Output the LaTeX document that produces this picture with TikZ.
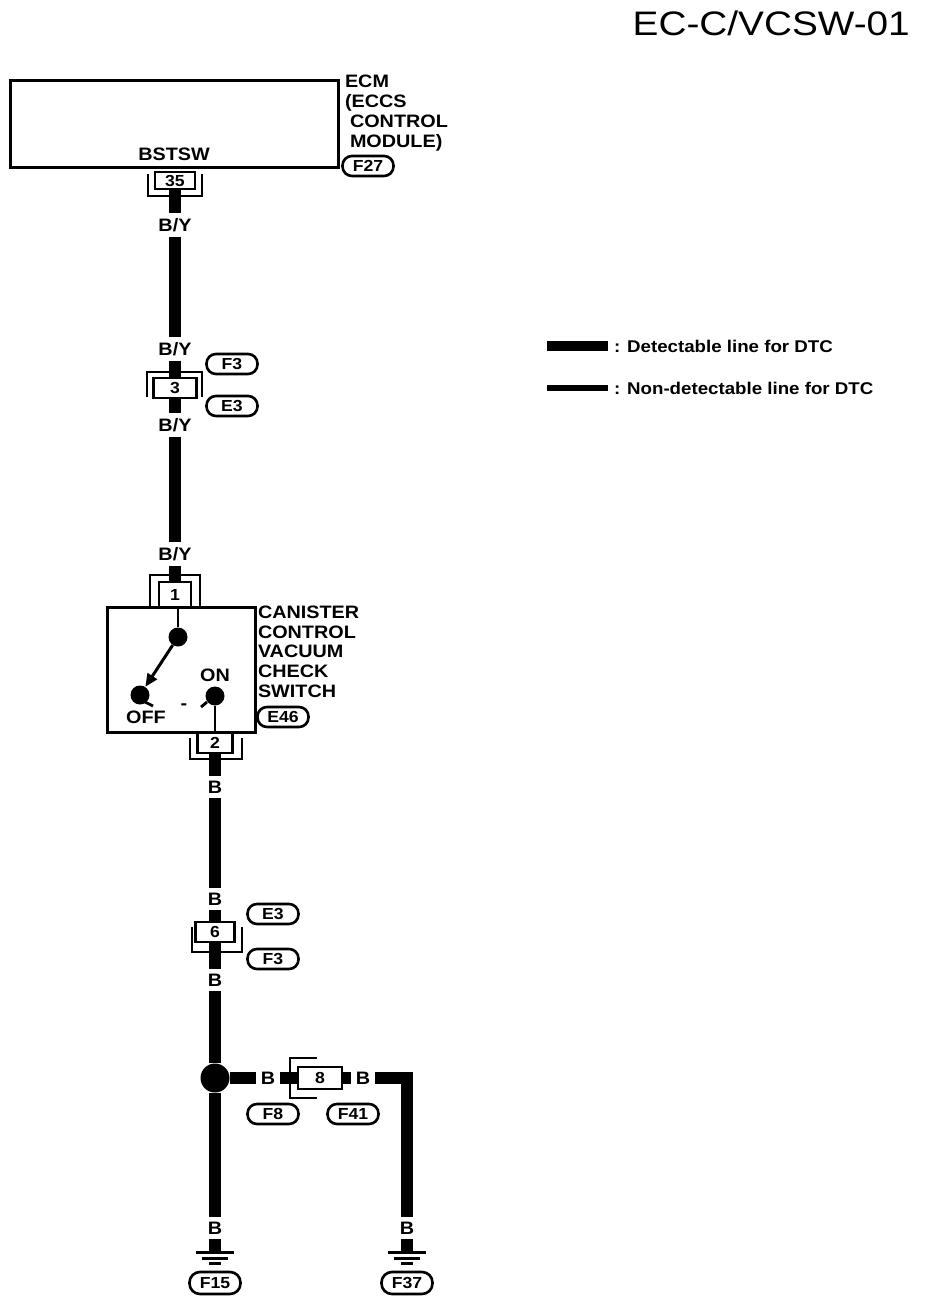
\documentclass[tikz,border=0pt]{standalone}
\usepackage{fontspec}
\setmainfont{Liberation Sans}
\newfontfamily\labfont[FakeStretch=1.1]{Liberation Sans}
\newfontfamily\ttlfont[FakeStretch=1.14]{Liberation Sans}
\usetikzlibrary{arrows.meta}
\begin{document}
\begin{tikzpicture}[x=1pt,y=-1pt,
  wire/.style={line width=12pt},
  lbl/.style={font=\labfont\fontsize{18}{20}\selectfont\bfseries, inner sep=0pt, outer sep=0pt},
  wlbl/.style={lbl, outer ysep=5pt},
  hlbl/.style={lbl, outer xsep=5pt},
  leglbl/.style={font=\labfont\fontsize{17}{20}\selectfont\bfseries, inner sep=0pt, outer sep=0pt},
  ovl/.style={draw, line width=2.6pt, rounded corners=9.5pt, minimum width=51pt, minimum height=20pt, inner sep=0pt, font=\labfont\fontsize{16}{18}\selectfont\bfseries},
  pinbox/.style={draw, line width=2.6pt, inner sep=0pt, outer sep=0pt, font=\labfont\fontsize{16}{18}\selectfont\bfseries},
  brk/.style={line width=2.8pt},
  ecmbox/.style={draw, line width=3pt, inner sep=0pt, outer sep=0pt},
  jdot/.style={circle, fill, inner sep=0pt, minimum size=19pt},
  gnd/.style={line width=3pt},
]
\fill[white] (0,0) rectangle (928,1304);
\useasboundingbox (0,0) rectangle (928,1304);

% title
\node[inner sep=0pt, anchor=east, font=\ttlfont\fontsize{34}{40}\selectfont] (title) at (910,23) {EC-C/VCSW-01};

% ECM
\node[ecmbox, minimum width=328pt, minimum height=87pt] (ecm) at (174,123.5) {};
\node[lbl, anchor=base west] (ecmA) at (345,87) {ECM};
\node[lbl, anchor=base west] (ecmB) at (345,107) {(ECCS};
\node[lbl, anchor=base west] (ecmC) at (350,127) {CONTROL};
\node[lbl, anchor=base west] (ecmD) at (350,147) {MODULE)};
\node[ovl] (f27) at (368,166) {F27};
\node[lbl] (bstsw) at (174,154) {BSTSW};

% connector 35
\node[pinbox, minimum width=40pt, minimum height=17pt] (c35) at (175,180.5) {35};
\draw[brk] (148,174) -- (148,196) -- (202,196) -- (202,174);

% upper harness
\node[wlbl] (by1) at (175,225) {B/Y};
\node[wlbl] (by2) at (175,349) {B/Y};
\node[pinbox, minimum width=43pt, minimum height=20pt] (c3) at (175,388) {3};
\draw[brk] (147,397) -- (147,372) -- (202,372) -- (202,397);
\node[ovl] (f3a) at (232,364) {F3};
\node[ovl] (e3a) at (232,406) {E3};
\node[wlbl] (by3) at (175,425) {B/Y};
\node[wlbl] (by4) at (175,554) {B/Y};

% connector 1 and switch
\node[pinbox, minimum width=32pt, minimum height=25pt] (c1) at (175,594.5) {1};
\draw[brk] (150,607) -- (150,575) -- (200,575) -- (200,607);
\node[ecmbox, minimum width=148pt, minimum height=125pt] (sw) at (181,669.5) {};
\node[lbl, anchor=base west] (swA) at (258,618) {CANISTER};
\node[lbl, anchor=base west] (swB) at (258,638) {CONTROL};
\node[lbl, anchor=base west] (swC) at (258,657) {VACUUM};
\node[lbl, anchor=base west] (swD) at (258,677) {CHECK};
\node[lbl, anchor=base west] (swE) at (258,697) {SWITCH};
\node[ovl] (e46) at (283,717) {E46};

\node[jdot] (d0) at (178,637) {};
\node[jdot] (doff) at (140,695) {};
\node[jdot] (don) at (215,696) {};
\draw[brk] (d0) -- (d0 |- sw.north);
\draw[brk, line width=3pt, -{Triangle[length=13pt,width=11pt]}] (d0) -- (doff);
\draw[brk] (don) -- (don |- sw.south);
\draw[brk] (145,702) -- (153,706);
\draw[brk] (207,702) -- (201,707);
\node[lbl] (on) at (215,675) {ON};
\node[lbl] (off) at (146,717) {OFF};
\node[lbl] (dash) at (184,707) {-};

% connector 2
\node[pinbox, minimum width=35pt, minimum height=21pt] (c2) at (215,742.5) {2};
\draw[brk] (190,738) -- (190,759) -- (242,759) -- (242,738);

% lower harness
\node[wlbl] (b1) at (215,787) {B};
\node[wlbl] (b2) at (215,899) {B};
\node[pinbox, minimum width=39pt, minimum height=20pt] (c6) at (215,932) {6};
\draw[brk] (192,927) -- (192,952) -- (242,952) -- (242,927);
\node[ovl] (e3b) at (273,914) {E3};
\node[ovl] (f3b) at (273,959) {F3};
\node[wlbl] (b3) at (215,980) {B};
\node[jdot, minimum size=29pt] (jn) at (215,1078) {};
\node[wlbl] (b4) at (215,1228) {B};
\coordinate (g1) at (215,1252);

% branch to F37
\node[hlbl] (b5) at (268,1078) {B};
\node[pinbox, minimum width=44pt, minimum height=22pt] (c8) at (320,1078) {8};
\draw[brk] (317,1058) -- (290,1058) -- (290,1098) -- (317,1098);
\node[hlbl] (b6) at (363,1078) {B};
\coordinate (corner) at (407,1078);
\node[wlbl] (b7) at (407,1228) {B};
\coordinate (g2) at (407,1252);
\node[ovl] (f8) at (273,1114) {F8};
\node[ovl] (f41) at (353,1114) {F41};

% wires
\draw[wire] (c35.south) -- (by1.north);
\draw[wire] (by1.south) -- (by2.north);
\draw[wire] (by2.south) -- (c3.north);
\draw[wire] (c3.south) -- (by3.north);
\draw[wire] (by3.south) -- (by4.north);
\draw[wire] (by4.south) -- (c1.north);
\draw[wire] (c2.south) -- (b1.north);
\draw[wire] (b1.south) -- (b2.north);
\draw[wire] (b2.south) -- (c6.north);
\draw[wire] (c6.south) -- (b3.north);
\draw[wire] (b3.south) -- (jn);
\draw[wire] (jn) -- (b4.north);
\draw[wire] (b4.south) -- (g1);
\draw[wire] (jn) -- (b5.west);
\draw[wire] (b5.east) -- (c8.west);
\draw[wire] (c8.east) -- (b6.west);
\draw[wire, line join=miter] (b6.east) -- (corner) -- (b7.north);
\draw[wire] (b7.south) -- (g2);

% grounds
\draw[gnd] ([xshift=-19pt]g1) -- ([xshift=19pt]g1);
\draw[gnd] ([xshift=-13pt,yshift=-6pt]g1) -- ([xshift=13pt,yshift=-6pt]g1);
\draw[gnd] ([xshift=-6pt,yshift=-11.5pt]g1) -- ([xshift=6pt,yshift=-11.5pt]g1);
\draw[gnd] ([xshift=-19pt]g2) -- ([xshift=19pt]g2);
\draw[gnd] ([xshift=-13pt,yshift=-6pt]g2) -- ([xshift=13pt,yshift=-6pt]g2);
\draw[gnd] ([xshift=-6pt,yshift=-11.5pt]g2) -- ([xshift=6pt,yshift=-11.5pt]g2);
\node[ovl, minimum height=22pt, rounded corners=10.5pt] (f15) at (215,1283) {F15};
\node[ovl, minimum height=22pt, rounded corners=10.5pt] (f37) at (407,1283) {F37};

% legend
\coordinate (l1) at (547,346);
\coordinate (l2) at (547,388);
\node[leglbl, anchor=west] (leg1) at (614,346) {: Detectable line for DTC};
\node[leglbl, anchor=west] (leg2) at (614,388) {: Non-detectable line for DTC};
\draw[line width=10pt, shorten >=6pt] (l1) -- (leg1.west);
\draw[line width=6pt, shorten >=6pt] (l2) -- (leg2.west);
\end{tikzpicture}
\end{document}
